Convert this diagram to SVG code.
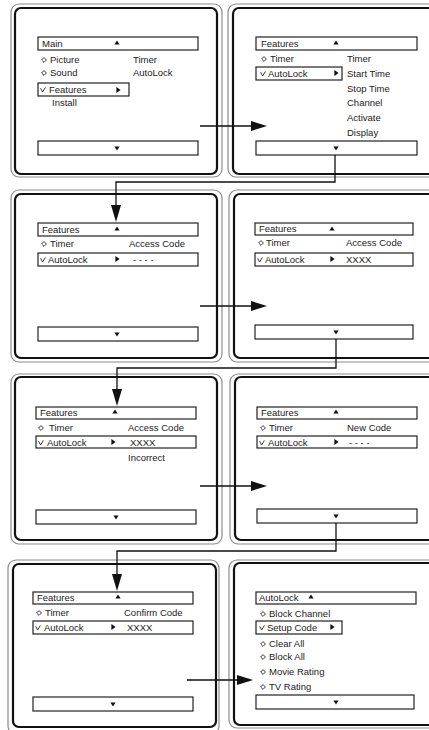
<svg xmlns="http://www.w3.org/2000/svg" xmlns:xlink="http://www.w3.org/1999/xlink" width="429" height="730" viewBox="0 0 429 730">
<defs>
<style>
.outer{fill:none;stroke:#8c8c8c;stroke-width:1.2}
.inner{fill:none;stroke:#111;stroke-width:2.2}
.box{fill:#fff;stroke:#222;stroke-width:1.2}
text{font-family:"Liberation Sans",Arial,sans-serif;font-size:9.5px;fill:#222}
.conn{fill:none;stroke:#111;stroke-width:1.3}
.ah{fill:#111}
</style>
<path id="dia" d="M0,-2.4 L2.4,0 L0,2.4 L-2.4,0 Z" fill="none" stroke="#222" stroke-width="0.9"/>
<path id="chk" d="M-2.4,-1.8 L-0.4,2 L2.4,-2.6" fill="none" stroke="#222" stroke-width="0.9"/>
<path id="up" d="M-2.6,1.6 L2.6,1.6 L0,-2.4 Z" fill="#111"/>
<path id="dn" d="M-2.6,-1.6 L2.6,-1.6 L0,2.4 Z" fill="#111"/>
<path id="rt" d="M-1.6,-3 L2.6,0 L-1.6,3 Z" fill="#111"/>
</defs>
<rect width="429" height="730" fill="#fff"/>

<g id="panel1">
<rect class="outer" x="11" y="4" width="211" height="173" rx="8"/>
<rect class="inner" x="15" y="8" width="202" height="166" rx="6"/>
<rect class="box" x="38" y="37" width="160" height="13"/>
<text x="42" y="47">Main</text><use href="#up" x="117" y="43"/>
<use href="#dia" x="44" y="60"/><text x="50" y="63">Picture</text>
<text x="133" y="63">Timer</text>
<use href="#dia" x="44" y="73"/><text x="50" y="76">Sound</text>
<text x="133" y="76">AutoLock</text>
<rect class="box" x="38" y="83" width="91" height="13"/>
<use href="#chk" x="43" y="90"/><text x="49" y="93">Features</text><use href="#rt" x="118" y="90"/>
<text x="52" y="106">Install</text>
<rect class="box" x="38" y="141" width="160" height="14"/><use href="#dn" x="117" y="148"/>
</g>

<g id="panel2">
<rect class="outer" x="228" y="4" width="220" height="173" rx="8"/>
<rect class="inner" x="233" y="8" width="220" height="166" rx="6"/>
<rect class="box" x="256" y="37" width="161" height="13"/>
<text x="261" y="47">Features</text><use href="#up" x="336" y="43"/>
<use href="#dia" x="264" y="59"/><text x="270" y="62">Timer</text>
<text x="347" y="62">Timer</text>
<rect class="box" x="256" y="67" width="86" height="13"/>
<use href="#chk" x="263" y="74"/><text x="268" y="77">AutoLock</text><use href="#rt" x="336" y="73"/>
<text x="347" y="77">Start Time</text>
<text x="347" y="92">Stop Time</text>
<text x="347" y="106">Channel</text>
<text x="347" y="121">Activate</text>
<text x="347" y="136">Display</text>
<rect class="box" x="256" y="141" width="161" height="14"/><use href="#dn" x="336" y="148"/>
</g>

<g id="panel3">
<rect class="outer" x="11" y="190" width="211" height="172" rx="8"/>
<rect class="inner" x="15" y="194" width="202" height="164" rx="6"/>
<rect class="box" x="38" y="223" width="160" height="13"/>
<text x="42" y="233">Features</text><use href="#up" x="117" y="229"/>
<use href="#dia" x="44" y="244"/><text x="50" y="247">Timer</text>
<text x="129" y="247">Access Code</text>
<rect class="box" x="38" y="253" width="160" height="13"/>
<use href="#chk" x="43" y="260"/><text x="48" y="263">AutoLock</text><use href="#rt" x="117" y="259"/>
<text x="133" y="263">- - - -</text>
<rect class="box" x="38" y="327" width="160" height="14"/><use href="#dn" x="117" y="334"/>
</g>

<g id="panel4">
<rect class="outer" x="229" y="190" width="220" height="172" rx="8"/>
<rect class="inner" x="234" y="194" width="220" height="164" rx="6"/>
<rect class="box" x="255" y="223" width="158" height="12"/>
<text x="259" y="232">Features</text><use href="#up" x="332" y="229"/>
<use href="#dia" x="261" y="243"/><text x="266" y="246">Timer</text>
<text x="346" y="246">Access Code</text>
<rect class="box" x="255" y="253" width="158" height="13"/>
<use href="#chk" x="260" y="260"/><text x="265" y="263">AutoLock</text><use href="#rt" x="332" y="259"/>
<text x="346" y="263">XXXX</text>
<rect class="box" x="255" y="325" width="158" height="14"/><use href="#dn" x="336" y="332"/>
</g>

<g id="panel5">
<rect class="outer" x="11" y="374" width="211" height="170" rx="8"/>
<rect class="inner" x="15" y="377" width="202" height="163" rx="6"/>
<rect class="box" x="36" y="407" width="160" height="12"/>
<text x="40" y="416">Features</text><use href="#up" x="115" y="412"/>
<use href="#dia" x="41" y="428"/><text x="49" y="431">Timer</text>
<text x="128" y="431">Access Code</text>
<rect class="box" x="36" y="436" width="160" height="12"/>
<use href="#chk" x="41" y="443"/><text x="47" y="446">AutoLock</text><use href="#rt" x="113" y="442"/>
<text x="130" y="446">XXXX</text>
<text x="128" y="461">Incorrect</text>
<rect class="box" x="36" y="510" width="160" height="14"/><use href="#dn" x="116" y="517"/>
</g>

<g id="panel6">
<rect class="outer" x="230" y="374" width="220" height="170" rx="8"/>
<rect class="inner" x="235" y="377" width="220" height="163" rx="6"/>
<rect class="box" x="257" y="407" width="160" height="12"/>
<text x="261" y="416">Features</text><use href="#up" x="336" y="412"/>
<use href="#dia" x="263" y="428"/><text x="269" y="431">Timer</text>
<text x="347" y="431">New Code</text>
<rect class="box" x="257" y="436" width="160" height="12"/>
<use href="#chk" x="262" y="443"/><text x="268" y="446">AutoLock</text><use href="#rt" x="336" y="442"/>
<text x="349" y="446">- - - -</text>
<rect class="box" x="257" y="509" width="160" height="14"/><use href="#dn" x="336" y="516"/>
</g>

<g id="panel7">
<rect class="outer" x="8" y="560" width="211" height="174" rx="8"/>
<rect class="inner" x="13" y="564" width="203" height="163" rx="6"/>
<rect class="box" x="33" y="592" width="160" height="12"/>
<text x="37" y="601">Features</text><use href="#up" x="118" y="597"/>
<use href="#dia" x="39" y="613"/><text x="45" y="616">Timer</text>
<text x="124" y="616">Confirm Code</text>
<rect class="box" x="33" y="621" width="160" height="13"/>
<use href="#chk" x="38" y="628"/><text x="44" y="631">AutoLock</text><use href="#rt" x="113" y="627"/>
<text x="127" y="631">XXXX</text>
<rect class="box" x="33" y="697" width="160" height="14"/><use href="#dn" x="113" y="704"/>
</g>

<g id="panel8">
<rect class="outer" x="229" y="560" width="220" height="168" rx="8"/>
<rect class="inner" x="234" y="563" width="220" height="162" rx="6"/>
<rect class="box" x="256" y="592" width="160" height="12"/>
<text x="259" y="601">AutoLock</text><use href="#up" x="311" y="597"/>
<use href="#dia" x="263" y="614"/><text x="269" y="617">Block Channel</text>
<rect class="box" x="256" y="621" width="86" height="13"/>
<use href="#chk" x="262" y="628"/><text x="267" y="631">Setup Code</text><use href="#rt" x="332" y="627"/>
<use href="#dia" x="263" y="644"/><text x="269" y="647">Clear All</text>
<use href="#dia" x="263" y="657"/><text x="269" y="660">Block All</text>
<use href="#dia" x="263" y="672"/><text x="269" y="675">Movie Rating</text>
<use href="#dia" x="263" y="687"/><text x="269" y="690">TV Rating</text>
<rect class="box" x="256" y="695" width="158" height="14"/><use href="#dn" x="336" y="702"/>
</g>

<g id="connectors">
<path class="conn" d="M200,126 H252"/>
<path class="ah" d="M267,126 L251,121 L251,131 Z"/>
<path class="conn" d="M335,155 V182 H116 V206"/>
<path class="ah" d="M116,222 L111,205 L121,205 Z"/>
<path class="conn" d="M200,306 H252"/>
<path class="ah" d="M267,306 L251,301 L251,311 Z"/>
<path class="conn" d="M336,339 V368 H117 V390"/>
<path class="ah" d="M117,406 L112,389 L122,389 Z"/>
<path class="conn" d="M200,486 H252"/>
<path class="ah" d="M267,486 L251,481 L251,491 Z"/>
<path class="conn" d="M336,523 V551 H117 V575"/>
<path class="ah" d="M117,591 L112,574 L122,574 Z"/>
<path class="conn" d="M187,680 H238"/>
<path class="ah" d="M253,680 L237,675 L237,685 Z"/>
</g>
</svg>
